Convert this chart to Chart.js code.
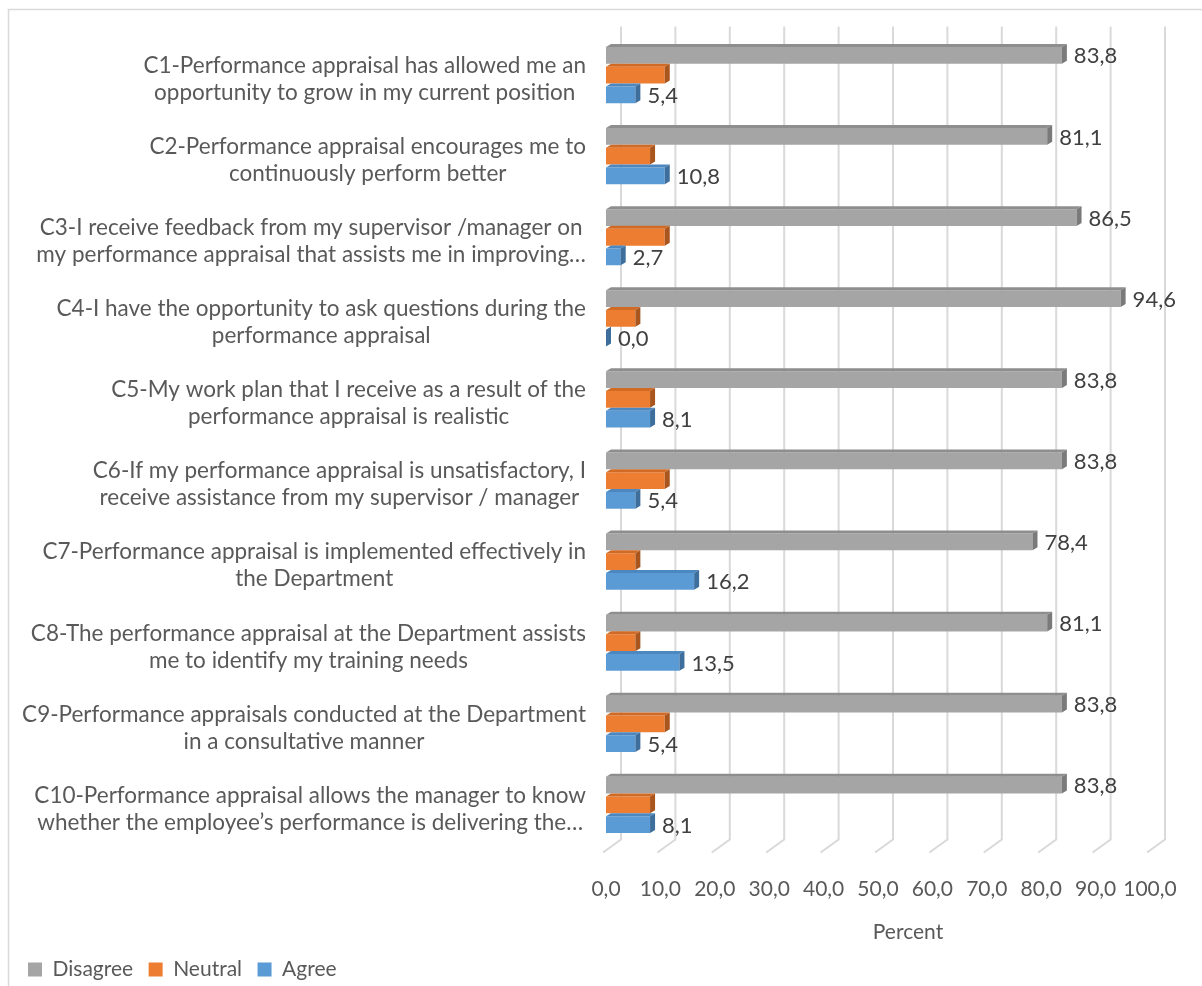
<!DOCTYPE html>
<html>
<head>
<meta charset="utf-8">
<script src="https://cdn.jsdelivr.net/npm/chart.js@4.4.0/dist/chart.umd.min.js"></script>
<style>
  html, body { margin: 0; padding: 0; background: #fff; }
  #wrap { width: 1202px; height: 986px; }
</style>
</head>
<body>
<div id="wrap"><canvas id="chart" width="1202" height="986"></canvas></div>
<script>
const items = [
  ['C1-Performance appraisal has allowed me an', 'opportunity to grow in my current position'],
  ['C2-Performance appraisal encourages me to', 'continuously perform better'],
  ['C3-I receive feedback from my supervisor /manager on', 'my performance appraisal that assists me in improving…'],
  ['C4-I have the opportunity to ask questions during the', 'performance appraisal'],
  ['C5-My work plan that I receive as a result of the', 'performance appraisal is realistic'],
  ['C6-If my performance appraisal is unsatisfactory, I', 'receive assistance from my supervisor / manager'],
  ['C7-Performance appraisal is implemented effectively in', 'the Department'],
  ['C8-The performance appraisal at the Department assists', 'me to identify my training needs'],
  ['C9-Performance appraisals conducted at the Department', 'in a consultative manner'],
  ['C10-Performance appraisal allows the manager to know', 'whether the employee’s performance is delivering the…']
];
const disagree = [83.8, 81.1, 86.5, 94.6, 83.8, 83.8, 78.4, 81.1, 83.8, 83.8];
const neutral = [10.8, 8.1, 10.8, 5.4, 8.1, 10.8, 5.4, 5.4, 10.8, 8.1];
const agree = [5.4, 10.8, 2.7, 0.0, 8.1, 5.4, 16.2, 13.5, 5.4, 8.1];
const percentTicks = [0, 10, 20, 30, 40, 50, 60, 70, 80, 90, 100];
const axisTitle = 'Percent';

const FONT = 'Lato';
const TEXT = '#595959';
const fmt = v => v.toFixed(1).replace('.', ',');

// white background plus the thin frame on the left and top
const frame = {
  id: 'frame',
  beforeDraw(chart) {
    const { ctx, width, height } = chart;
    ctx.save();
    ctx.fillStyle = '#fff';
    ctx.fillRect(0, 0, width, height);
    ctx.strokeStyle = '#D9D9D9';
    ctx.lineWidth = 1.5;
    ctx.beginPath();
    ctx.moveTo(8.5, height);
    ctx.lineTo(8.5, 9.5);
    ctx.lineTo(width, 9.5);
    ctx.stroke();
    ctx.restore();
  }
};

// gridlines on the back wall, bending onto the floor
const grid3d = {
  id: 'grid3d',
  beforeDatasetsDraw(chart) {
    const { ctx, chartArea, scales: { x } } = chart;
    ctx.save();
    ctx.strokeStyle = '#D9D9D9';
    ctx.lineWidth = 2;
    x.ticks.forEach(t => {
      const px = x.getPixelForValue(t.value);
      ctx.beginPath();
      ctx.moveTo(px + 15, chartArea.top - 8);
      ctx.lineTo(px + 15, chartArea.bottom - 6);
      ctx.lineTo(px - 3, chartArea.bottom + 7);
      ctx.stroke();
    });
    ctx.restore();
  }
};

// top and end faces so the bars look like blocks
const bars3d = {
  id: 'bars3d',
  afterDatasetsDraw(chart) {
    const ctx = chart.ctx;
    const dx = 5, dy = 3;
    ctx.save();
    chart.data.datasets.forEach((ds, i) => {
      chart.getDatasetMeta(i).data.forEach(bar => {
        const top = bar.y - bar.height / 2;
        const bottom = bar.y + bar.height / 2;
        const x0 = bar.base, x1 = bar.x;
        ctx.fillStyle = ds.topColor;
        ctx.beginPath();
        ctx.moveTo(x0, top);
        ctx.lineTo(x1, top);
        ctx.lineTo(x1 + dx, top - dy);
        ctx.lineTo(x0 + dx, top - dy);
        ctx.closePath();
        ctx.fill();
        ctx.fillStyle = ds.sideColor;
        ctx.beginPath();
        ctx.moveTo(x1, top);
        ctx.lineTo(x1 + dx, top - dy);
        ctx.lineTo(x1 + dx, bottom - dy);
        ctx.lineTo(x1, bottom);
        ctx.closePath();
        ctx.fill();
      });
    });
    ctx.restore();
  }
};

// value labels next to the Disagree and Agree bars
const valueLabels = {
  id: 'valueLabels',
  afterDatasetsDraw(chart) {
    const ctx = chart.ctx;
    ctx.save();
    ctx.font = `22px ${FONT}`;
    ctx.fillStyle = '#404040';
    ctx.textAlign = 'left';
    ctx.textBaseline = 'middle';
    chart.data.datasets.forEach((ds, i) => {
      if (!ds.showValues) return;
      chart.getDatasetMeta(i).data.forEach((bar, j) => {
        ctx.fillText(fmt(ds.data[j]), bar.x + 12, bar.y + 1);
      });
    });
    ctx.restore();
  }
};

// category labels: lines centred on each other, block right-aligned;
// the axis title sits a little right of the plot centre
const axisText = {
  id: 'axisText',
  afterDraw(chart) {
    const { ctx, scales: { x, y } } = chart;
    ctx.save();
    ctx.font = `22.5px ${FONT}`;
    ctx.fillStyle = TEXT;
    ctx.textAlign = 'center';
    ctx.textBaseline = 'middle';
    const right = y.right - 20;
    items.forEach((lines, i) => {
      const w = Math.max(...lines.map(l => ctx.measureText(l).width));
      const cx = right - w / 2;
      const cy = y.getPixelForValue(i) + 4;
      lines.forEach((l, j) => {
        ctx.fillText(l, cx, cy + (j - (lines.length - 1) / 2) * 27);
      });
    });
    ctx.font = `21px ${FONT}`;
    ctx.fillText(axisTitle, (x.left + x.right) / 2 + 30, x.bottom - 11);
    ctx.restore();
  }
};

function draw() {
  const ctx = document.querySelector('#chart').getContext('2d');
  new Chart(ctx, {
    type: 'bar',
    data: {
      labels: items,
      datasets: [
        { label: 'Disagree', data: disagree, backgroundColor: '#A5A5A5', topColor: '#8E8E8E', sideColor: '#7A7A7A', showValues: true },
        { label: 'Neutral', data: neutral, backgroundColor: '#ED7D31', topColor: '#D06A24', sideColor: '#A8561E', showValues: false },
        { label: 'Agree', data: agree, backgroundColor: '#5B9BD5', topColor: '#4C88BF', sideColor: '#3D6E9C', showValues: true }
      ]
    },
    options: {
      indexAxis: 'y',
      responsive: false,
      animation: false,
      categoryPercentage: 0.73,
      barPercentage: 0.85,
      borderWidth: 0,
      layout: { padding: { left: 12.5, right: 52, top: 34.5, bottom: -4 } },
      scales: {
        x: {
          min: 0,
          max: 100,
          afterBuildTicks: scale => { scale.ticks = percentTicks.map(v => ({ value: v })); },
          afterFit: scale => { scale.height = 98; },
          grid: { display: false },
          border: { display: false },
          ticks: {
            padding: 23,
            color: TEXT,
            autoSkip: false,
            maxRotation: 0,
            minRotation: 0,
            font: { family: FONT, size: 21 },
            callback: v => fmt(v)
          }
        },
        y: {
          afterFit: scale => { scale.width = 593.5; },
          grid: { display: false },
          border: { display: false },
          ticks: { display: false }
        }
      },
      plugins: {
        legend: {
          position: 'bottom',
          align: 'start',
          labels: {
            boxWidth: 14,
            boxHeight: 14,
            padding: 15.5,
            color: TEXT,
            font: { family: FONT, size: 21 }
          }
        },
        tooltip: { enabled: false }
      }
    },
    plugins: [frame, grid3d, bars3d, valueLabels, axisText]
  });
}

document.fonts.load(`22px ${FONT}`).then(draw, draw);
</script>
</body>
</html>
